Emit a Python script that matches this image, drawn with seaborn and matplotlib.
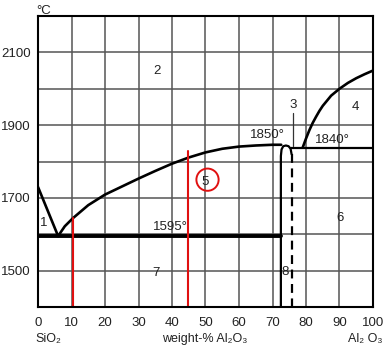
import matplotlib
matplotlib.use("Agg")
import matplotlib.pyplot as plt
import seaborn as sns
import pandas as pd

# SiO2 - Al2O3 phase diagram
# liquidus on the SiO2 side (down to the eutectic)
liq_left_x = [0, 6]
liq_left_t = [1730, 1595]

# liquidus from the eutectic up to the mullite maximum
liq_mid_x = [6, 8, 10.4, 15, 20, 25, 30, 35, 40, 45, 50, 55, 60, 65, 70, 72.6]
liq_mid_t = [1595, 1622, 1644, 1680, 1709, 1731, 1753, 1774, 1794, 1811, 1825, 1835, 1841, 1844, 1846, 1846]

# liquidus on the Al2O3 side
liq_right_x = [79, 80, 81, 82, 83, 84, 85, 87.5, 90, 92.5, 95, 97.5, 100]
liq_right_t = [1838, 1863, 1886, 1906, 1923, 1939, 1953, 1981, 2000, 2016, 2029, 2040, 2050]

# mullite solid solution field
mullite_x = [72.5, 72.5, 72.7, 73.2, 74.0, 74.8, 75.4, 75.7]
mullite_t = [1400, 1815, 1833, 1842, 1844, 1842, 1835, 1820]
mullite_dash_x = [75.7, 75.7]
mullite_dash_t = [1820, 1400]

# isotherms
eutectic_x = [0, 72.5]
eutectic_t = [1595, 1595]
iso1840_x = [75.5, 100]
iso1840_t = [1838, 1838]

# red marker lines and circle
red1_x = [10.4, 10.4]
red1_t = [1400, 1644]
red2_x = [44.9, 44.9]
red2_t = [1400, 1830]
circle_x = [50.6]
circle_t = [1750]

x_ticks = list(range(0, 101, 10))
y_ticks = list(range(1400, 2201, 100))
y_labels = ["" if t % 200 == 0 else str(t) for t in y_ticks]

# field labels: text, x, temperature
field_labels = [
    ("1", 1.6, 1630),
    ("2", 35.5, 2048),
    ("3", 76.2, 1955),
    ("4", 94.8, 1950),
    ("5", 50.0, 1745),
    ("6", 90.3, 1645),
    ("7", 35.2, 1493),
    ("8", 73.8, 1495),
    ("1850\u00b0", 68.5, 1872),
    ("1840\u00b0", 87.8, 1860),
    ("1595\u00b0", 39.4, 1621),
]

sns.set_theme(style="white")
plt.rcParams["font.family"] = ["Liberation Sans", "DejaVu Sans"]

fig = plt.figure(figsize=(3.92, 3.6), dpi=100)
ax = fig.add_axes([38 / 392, 1 - 307 / 360, 335 / 392, 291 / 360])

txt = "#222222"

def line(xs, ts, **kw):
    df = pd.DataFrame({"x": xs, "t": ts})
    sns.lineplot(data=df, x="x", y="t", sort=False, estimator=None, ax=ax, **kw)

line(liq_left_x, liq_left_t, color="black", lw=1.9)
line(liq_mid_x, liq_mid_t, color="black", lw=1.9)
line(liq_right_x, liq_right_t, color="black", lw=1.9)
line(mullite_x, mullite_t, color="black", lw=1.6)
line(mullite_dash_x, mullite_dash_t, color="black", lw=1.6, linestyle=(0, (4, 2.5)))
line(eutectic_x, eutectic_t, color="black", lw=2.8)
line(iso1840_x, iso1840_t, color="black", lw=1.6)
line([76.2, 76.2], [1934, 1842], color="#333333", lw=0.9)

line(red1_x, red1_t, color="#e01010", lw=1.5)
line(red2_x, red2_t, color="#e01010", lw=1.5)
sns.scatterplot(x=circle_x, y=circle_t, ax=ax, s=16 ** 2, marker="o",
                facecolor="none", edgecolor="#e01010", linewidth=1.4, zorder=5)

for s, xv, tv in field_labels:
    ax.text(xv, tv, s, ha="center", va="center", fontsize=9.5, color=txt)

ax.set_xlim(0, 100)
ax.set_ylim(1400, 2200)
ax.set_xticks(x_ticks)
ax.set_xticklabels([str(v) for v in x_ticks])
ax.set_yticks(y_ticks)
ax.set_yticklabels(y_labels)
ax.tick_params(axis="both", length=0, labelsize=9.5, colors=txt)
ax.tick_params(axis="x", pad=7)
ax.tick_params(axis="y", pad=5)
ax.grid(True, color="#555555", lw=1.1)
ax.set_axisbelow(True)
for sp in ax.spines.values():
    sp.set_color("black")
    sp.set_linewidth(1.5)
ax.set_xlabel("")
ax.set_ylabel("")

fig.text(44 / 392, 1 - 11 / 360, "\u00b0C", ha="center", va="center", fontsize=9.5, color=txt)
fig.text(35 / 392, 1 - 339 / 360, "SiO\u2082", ha="left", va="center", fontsize=9, color=txt)
fig.text(205 / 392, 1 - 339 / 360, "weight-% Al\u2082O\u2083", ha="center", va="center", fontsize=9, color=txt)
fig.text(383 / 392, 1 - 339 / 360, "Al\u2082 O\u2083", ha="right", va="center", fontsize=9, color=txt)

fig.savefig("out.png", dpi=100)
plt.close("all")
